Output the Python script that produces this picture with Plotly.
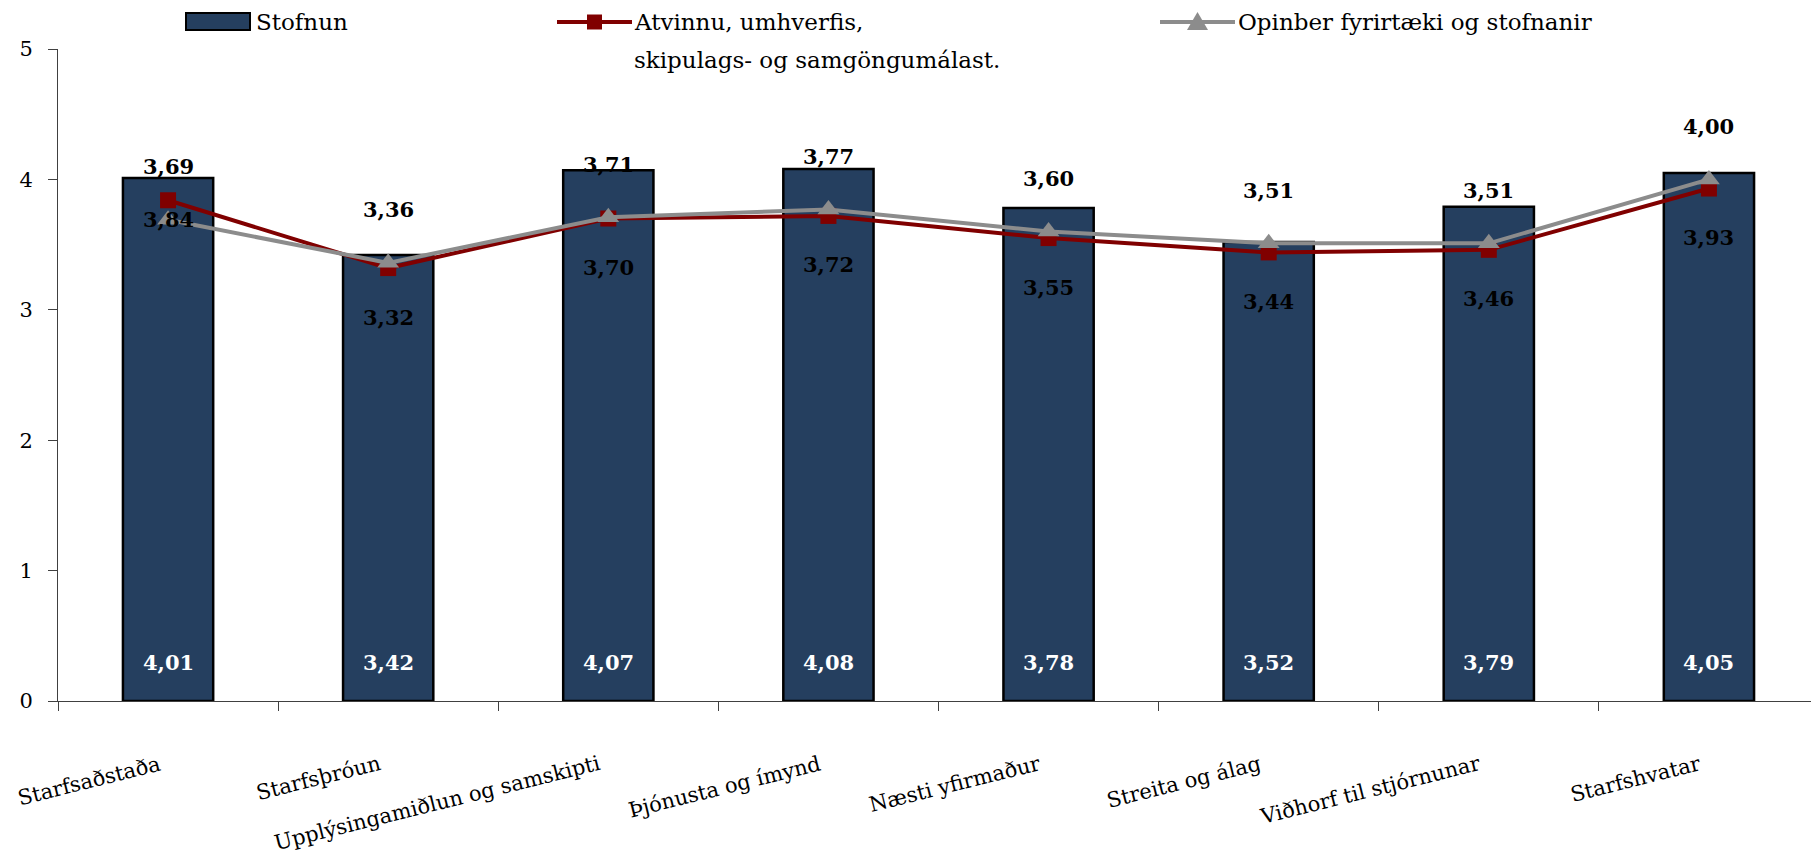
import plotly.graph_objects as go

categories = [
    "Starfsaðstaða",
    "Starfsþróun",
    "Upplýsingamiðlun og samskipti",
    "Þjónusta og ímynd",
    "Næsti yfirmaður",
    "Streita og álag",
    "Viðhorf til stjórnunar",
    "Starfshvatar",
]
stofnun = [4.01, 3.42, 4.07, 4.08, 3.78, 3.52, 3.79, 4.05]
atvinnu = [3.84, 3.32, 3.70, 3.72, 3.55, 3.44, 3.46, 3.93]
opinber = [3.69, 3.36, 3.71, 3.77, 3.60, 3.51, 3.51, 4.00]

NAME_BAR = "Stofnun"
NAME_RED = ["Atvinnu, umhverfis,", "skipulags- og samgöngumálast."]
NAME_GRAY = "Opinber fyrirtæki og stofnanir"

# the page body adds an 8px margin, so the figure is sized to fit the window
PAGE = 8
W, H = 1819 - PAGE, 864 - PAGE
# plot box in window pixels
BOX_L, BOX_T, BOX_R, BOX_B = 58, 49, 1819, 701
FONT = "DejaVu Serif"
NAVY = "#253F5F"
RED = "#800000"
GRAY = "#8C8C8C"
AXIS = "#404040"


def fmt(v):
    return f"{v:.2f}".replace(".", ",")


def px(x):
    # window pixel column -> paper x
    return (x - BOX_L) / (BOX_R - BOX_L)


def py(y):
    # window pixel row -> paper y
    return (BOX_B - y) / (BOX_B - BOX_T)


fig = go.Figure()
fig.add_trace(go.Bar(
    x=categories, y=stofnun, name=NAME_BAR, width=0.41,
    marker={"color": NAVY, "line": {"color": "#000000", "width": 2.5}},
    hovertemplate="%{x}<br>%{y:.2f}<extra></extra>",
))
fig.add_trace(go.Scatter(
    x=categories, y=atvinnu, name=" ".join(NAME_RED), mode="lines+markers",
    line={"color": RED, "width": 4},
    marker={"symbol": "square", "size": 16, "color": RED},
))
fig.add_trace(go.Scatter(
    x=categories, y=opinber, name=NAME_GRAY, mode="lines+markers",
    line={"color": GRAY, "width": 4},
    marker={"symbol": "triangle-up", "size": 19, "color": GRAY},
))

# data labels
label_font = {"family": FONT, "size": 21, "color": "#000000", "weight": "bold"}
for i, cat in enumerate(categories):
    fig.add_annotation(x=cat, y=0, yshift=39, text=fmt(stofnun[i]), showarrow=False,
                       font={**label_font, "color": "#FFFFFF"})
    fig.add_annotation(x=cat, y=opinber[i], yshift=53, text=fmt(opinber[i]),
                       showarrow=False, font=label_font)
    shift = -19 if i == 0 else -49
    fig.add_annotation(x=cat, y=atvinnu[i], yshift=shift, text=fmt(atvinnu[i]),
                       showarrow=False, font=label_font)

# rotated category labels, right end at the category centre
for cat in categories:
    fig.add_annotation(x=cat, xref="x", y=py(750), yref="paper", text=cat,
                       textangle=-14, xanchor="right", yanchor="top", xshift=-4,
                       borderpad=0, showarrow=False,
                       font={"family": FONT, "size": 21, "color": "#000000"})

# legend drawn by hand
LEG_Y = 22
legend_font = {"family": FONT, "size": 23, "color": "#000000"}
fig.add_shape(type="rect", xref="paper", yref="paper",
              x0=px(186), x1=px(250), y0=py(LEG_Y + 8), y1=py(LEG_Y - 9),
              fillcolor=NAVY, line={"color": "#000000", "width": 2})
fig.add_annotation(xref="paper", yref="paper", x=px(255), y=py(LEG_Y), xanchor="left",
                   yanchor="middle", text=NAME_BAR, showarrow=False, borderpad=0,
                   font=legend_font)

fig.add_shape(type="line", xref="paper", yref="paper",
              x0=px(557), x1=px(632), y0=py(LEG_Y), y1=py(LEG_Y),
              line={"color": RED, "width": 4})
fig.add_shape(type="rect", xref="paper", yref="paper",
              x0=px(587), x1=px(602), y0=py(LEG_Y + 7.5), y1=py(LEG_Y - 7.5),
              fillcolor=RED, line={"width": 0})
fig.add_annotation(xref="paper", yref="paper", x=px(633), y=py(LEG_Y), xanchor="left",
                   yanchor="middle", text=NAME_RED[0], showarrow=False, borderpad=0,
                   font=legend_font)
fig.add_annotation(xref="paper", yref="paper", x=px(633), y=py(LEG_Y + 38), xanchor="left",
                   yanchor="middle", text=NAME_RED[1], showarrow=False, borderpad=0,
                   font=legend_font)

fig.add_shape(type="line", xref="paper", yref="paper",
              x0=px(1160), x1=px(1235), y0=py(LEG_Y), y1=py(LEG_Y),
              line={"color": GRAY, "width": 4})
fig.add_shape(type="path", xref="paper", yref="paper",
              path=(f"M {px(1187)},{py(LEG_Y + 8)} L {px(1208)},{py(LEG_Y + 8)} "
                    f"L {px(1197.5)},{py(LEG_Y - 10)} Z"),
              fillcolor=GRAY, line={"width": 0})
fig.add_annotation(xref="paper", yref="paper", x=px(1237), y=py(LEG_Y), xanchor="left",
                   yanchor="middle", text=NAME_GRAY, showarrow=False, borderpad=0,
                   font=legend_font)

fig.update_layout(
    width=W, height=H,
    margin={"l": BOX_L - PAGE, "r": W - (BOX_R - PAGE), "t": BOX_T - PAGE,
            "b": H - (BOX_B - PAGE), "pad": 0},
    paper_bgcolor="#FFFFFF", plot_bgcolor="#FFFFFF",
    font={"family": FONT, "size": 20, "color": "#000000"},
    showlegend=False,
)
fig.update_xaxes(
    type="category", range=[-0.5, len(categories) - 0.5],
    showline=True, linecolor=AXIS, linewidth=1,
    ticks="outside", tickson="boundaries", ticklen=9, tickcolor=AXIS,
    showticklabels=False, showgrid=False, zeroline=False, automargin=False,
)
fig.update_yaxes(
    range=[0, 5], dtick=1, showline=True, linecolor=AXIS, linewidth=1,
    ticks="outside", ticklen=9, tickcolor=AXIS, showgrid=False, zeroline=False,
    ticklabelstandoff=11, automargin=False,
    tickfont={"family": FONT, "size": 21},
)

fig.write_html("out.html")
